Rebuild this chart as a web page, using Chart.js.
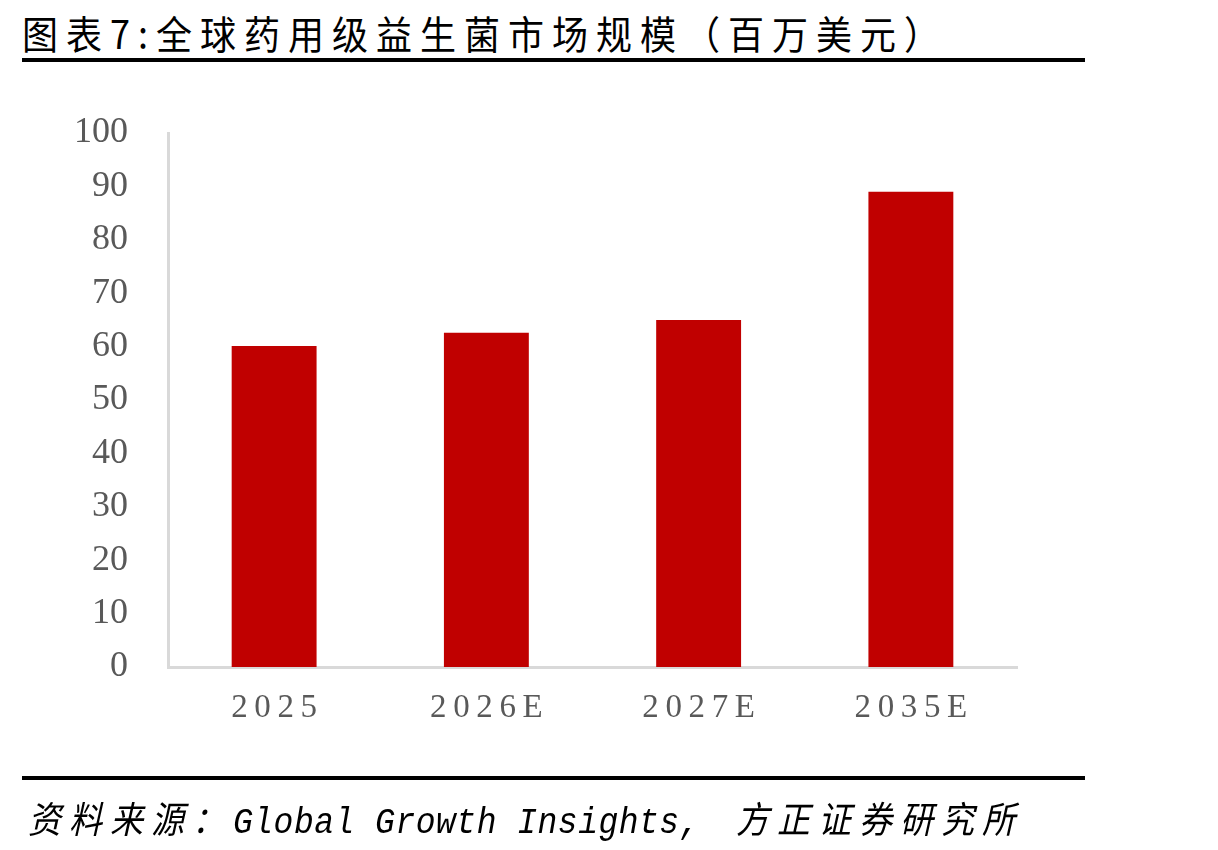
<!DOCTYPE html>
<html>
<head>
<meta charset="utf-8">
<script src="https://cdn.jsdelivr.net/npm/chart.js@4"></script>
<style>
  html, body { margin: 0; padding: 0; background: #fff; }
  #wrap { position: relative; width: 1218px; height: 850px; overflow: hidden; }
  #chartBox { position: absolute; left: 0; top: 0; width: 1218px; height: 850px; }
  .title {
    position: absolute; left: 22px; top: 4px;
    font-family: "Noto Sans CJK SC", sans-serif; font-size: 36px; letter-spacing: 8px;
    color: #000; white-space: nowrap; transform-origin: left top; transform: scaleY(1.08);
  }
  .rule { position: absolute; left: 22px; width: 1063px; height: 4px; background: #000; }
  .source {
    position: absolute; left: 28px; top: 790px; white-space: nowrap;
    font-size: 33px; font-style: italic; color: #000;
    transform-origin: left top; transform: scaleY(1.12);
  }
  .source .cjk { font-family: "Noto Sans CJK SC", sans-serif; letter-spacing: 8px; }
  .source .lat { font-family: "Liberation Mono", monospace; letter-spacing: 0.5px; }
  .source .gap { display: inline-block; width: 36px; }
</style>
</head>
<body>
<div id="wrap">
  <div class="title">图表7:全球药用级益生菌市场规模（百万美元）</div>
  <div class="rule" style="top:58px"></div>
  <div id="chartBox"><canvas id="myChart"></canvas></div>
  <div class="rule" style="top:776px"></div>
  <div class="source"><span class="cjk">资料来源：</span><span class="lat">Global Growth Insights,</span><span class="gap"></span><span class="cjk">方正证券研究所</span></div>
</div>
<script>
const years = ['2025', '2026E', '2027E', '2035E'];
const market_size = [60.1, 62.6, 65.0, 89.0];
const y_ticks = [0, 10, 20, 30, 40, 50, 60, 70, 80, 90, 100];

const ctx = document.getElementById('myChart');

new Chart(ctx, {
  type: 'bar',
  data: {
    labels: years,
    datasets: [{
      label: '全球药用级益生菌市场规模',
      data: market_size,
      backgroundColor: '#C00000',
      borderWidth: 0,
      categoryPercentage: 1,
      barPercentage: 0.4
    }]
  },
  options: {
    responsive: true,
    maintainAspectRatio: false,
    animation: false,
    layout: {
      padding: { top: 133, left: 0, right: 201, bottom: 100 }
    },
    plugins: {
      legend: { display: false },
      tooltip: { enabled: false }
    },
    scales: {
      x: {
        grid: { display: false, drawTicks: false },
        border: { color: '#D9D9D9', width: 3 },
        ticks: {
          color: '#595959',
          padding: 22,
          font: { family: '"Liberation Serif", serif', size: 33 },
          callback: function (v, i) { return years[i].split('').join('\u2009'); }
        },
        afterFit: function (axis) { axis.height = 83; }
      },
      y: {
        min: 0,
        max: 100,
        afterBuildTicks: function (axis) { axis.ticks = y_ticks.map(v => ({ value: v })); },
        grid: { display: false, drawTicks: false },
        border: { color: '#D9D9D9', width: 3 },
        ticks: {
          color: '#595959',
          padding: 40,
          font: { family: '"Liberation Serif", serif', size: 36 }
        },
        afterFit: function (axis) { axis.width = 168; }
      }
    }
  }
});
</script>
</body>
</html>
